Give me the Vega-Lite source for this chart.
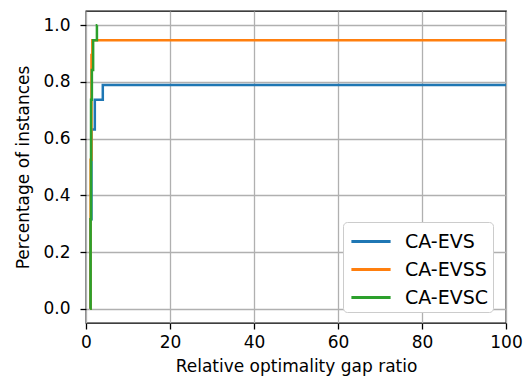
{
  "$schema": "https://vega.github.io/schema/vega-lite/v6.json",
  "autosize": "none",
  "width": 420,
  "height": 312,
  "padding": {"left": 86, "top": 11, "right": 22, "bottom": 60},
  "config": {
    "font": "DejaVu Sans",
    "view": {"stroke": "black", "strokeWidth": 1.3},
    "axis": {
      "labelFont": "DejaVu Sans", "titleFont": "DejaVu Sans",
      "labelFontSize": 17, "titleFontSize": 17, "titleFontWeight": "normal",
      "labelColor": "black", "titleColor": "black",
      "tickColor": "black", "tickSize": 6, "tickWidth": 1.3, "domain": false,
      "gridColor": "#b0b0b0", "gridWidth": 1.3, "labelFlush": false
    },
    "legend": {"labelFont": "DejaVu Sans", "labelFontSize": 19, "labelColor": "black"}
  },
  "data": {"values": [
    {"x": 1.0, "y": 0.0, "s": "CA-EVS"},
    {"x": 1.05, "y": 0.316, "s": "CA-EVS"},
    {"x": 1.3, "y": 0.632, "s": "CA-EVS"},
    {"x": 2.1, "y": 0.737, "s": "CA-EVS"},
    {"x": 4.0, "y": 0.789, "s": "CA-EVS"},
    {"x": 100, "y": 0.789, "s": "CA-EVS"},
    {"x": 1.0, "y": 0.0, "s": "CA-EVSS"},
    {"x": 1.1, "y": 0.526, "s": "CA-EVSS"},
    {"x": 1.3, "y": 0.895, "s": "CA-EVSS"},
    {"x": 1.5, "y": 0.947, "s": "CA-EVSS"},
    {"x": 100, "y": 0.947, "s": "CA-EVSS"},
    {"x": 1.0, "y": 0.0, "s": "CA-EVSC"},
    {"x": 1.1, "y": 0.316, "s": "CA-EVSC"},
    {"x": 1.2, "y": 0.737, "s": "CA-EVSC"},
    {"x": 1.4, "y": 0.842, "s": "CA-EVSC"},
    {"x": 1.7, "y": 0.947, "s": "CA-EVSC"},
    {"x": 2.6, "y": 1.0, "s": "CA-EVSC"},
    {"x": 2.7, "y": 1.0, "s": "CA-EVSC"}
  ]},
  "mark": {"type": "line", "interpolate": "step-after", "strokeWidth": 2.5, "clip": true},
  "encoding": {
    "x": {"field": "x", "type": "quantitative",
      "scale": {"domain": [0, 100], "nice": false, "zero": false},
      "axis": {"values": [0, 20, 40, 60, 80, 100], "title": "Relative optimality gap ratio", "titlePadding": 8, "labelPadding": 5}},
    "y": {"field": "y", "type": "quantitative",
      "scale": {"domain": [-0.05, 1.05], "nice": false, "zero": false},
      "axis": {"values": [0, 0.2, 0.4, 0.6, 0.8, 1.0], "format": ".1f", "title": "Percentage of instances", "titlePadding": 10, "labelPadding": 10}},
    "color": {"field": "s", "type": "nominal", "sort": ["CA-EVS", "CA-EVSS", "CA-EVSC"],
      "scale": {"domain": ["CA-EVS", "CA-EVSS", "CA-EVSC"], "range": ["#1f77b4", "#ff7f0e", "#2ca02c"]},
      "legend": {"title": null, "orient": "none", "legendX": 257, "legendY": 211,
        "symbolType": "M-1.4,0H1.4", "symbolSize": 784, "symbolStrokeWidth": 3, "symbolOffset": 8.5,
        "fillColor": "white", "strokeColor": "#cccccc", "cornerRadius": 4, "padding": 4, "rowPadding": 2,
        "labelOffset": 18.5}},
    "order": {"field": "x", "type": "quantitative"}
  }
}
